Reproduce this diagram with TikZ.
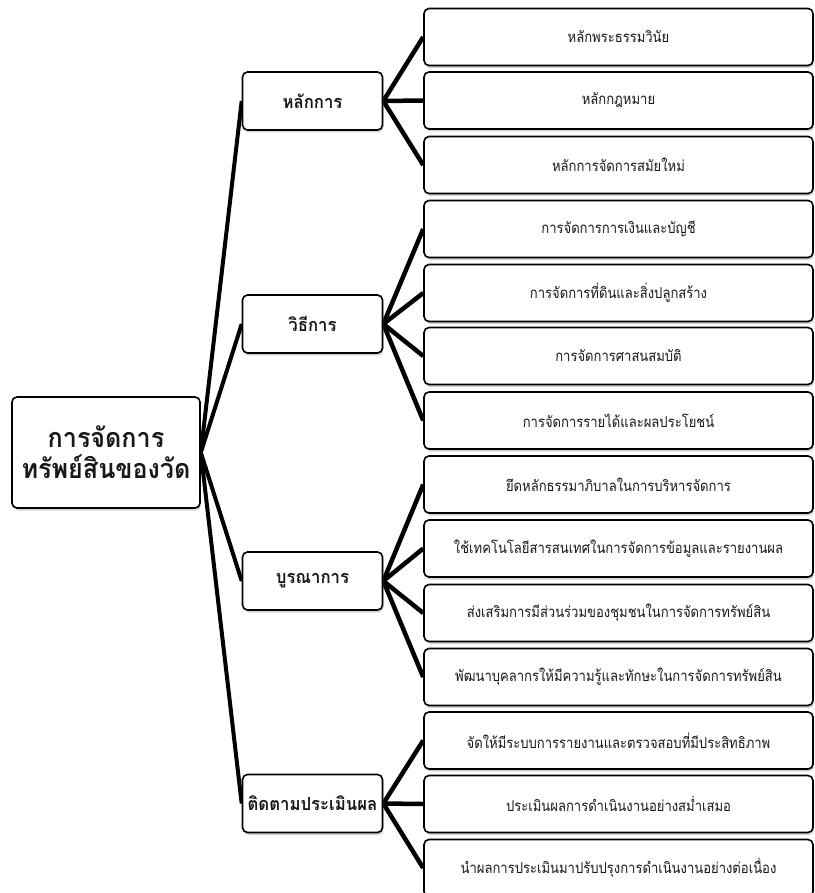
\documentclass[tikz,border=0pt]{standalone}
\usepackage{fontspec}
\newfontfamily\thairoot[Script=Thai,FakeStretch=0.93]{Loma}
\newfontfamily\thaimid[Script=Thai,FakeStretch=0.93]{Loma}
\newfontfamily\thaileaf[Script=Thai,FakeStretch=0.87]{Loma}
\usetikzlibrary{shadows,backgrounds}
\begin{document}
\begin{tikzpicture}[x=1pt,y=-1pt,
  box/.style={draw=black, line width=1.6pt, rounded corners=5pt, fill=white,
    drop shadow={opacity=0.35, shadow xshift=1pt, shadow yshift=-2.5pt},
    align=center, inner sep=0pt, text=black!90},
  rootbox/.style={box, minimum width=188pt, minimum height=111pt,
    font=\thairoot\bfseries\fontsize{27}{31}\selectfont},
  midbox/.style={box, minimum width=140pt, minimum height=58pt,
    font=\thaimid\bfseries\fontsize{18}{22}\selectfont},
  leafbox/.style={box, minimum width=389pt, minimum height=57pt,
    font=\thaileaf\fontsize{15}{18}\selectfont},
  link/.style={line width=4pt},
  sublink/.style={line width=4.5pt}]
\useasboundingbox (0,0) rectangle (814,893);
\node[rootbox] (root) at (106,452.5) {การจัดการ\\ทรัพย์สินของวัด};
\node[midbox] (m1) at (312.5,101) {หลักการ};
\node[midbox] (m2) at (312.5,324) {วิธีการ};
\node[midbox] (m3) at (312.5,581) {บูรณาการ};
\node[midbox] (m4) at (312.5,803.5) {ติดตามประเมินผล};
\node[leafbox] (a1) at (618.5,37) {หลักพระธรรมวินัย};
\node[leafbox] (a2) at (618.5,100.5) {หลักกฎหมาย};
\node[leafbox] (a3) at (618.5,165) {หลักการจัดการสมัยใหม่};
\node[leafbox] (b1) at (618.5,229) {การจัดการการเงินและบัญชี};
\node[leafbox] (b2) at (618.5,293) {การจัดการที่ดินและสิ่งปลูกสร้าง};
\node[leafbox] (b3) at (618.5,356) {การจัดการศาสนสมบัติ};
\node[leafbox] (b4) at (618.5,420.5) {การจัดการรายได้และผลประโยชน์};
\node[leafbox] (c1) at (618.5,484.5) {ยึดหลักธรรมาภิบาลในการบริหารจัดการ};
\node[leafbox] (c2) at (618.5,548.5) {ใช้เทคโนโลยีสารสนเทศในการจัดการข้อมูลและรายงานผล};
\node[leafbox] (c3) at (618.5,613) {ส่งเสริมการมีส่วนร่วมของชุมชนในการจัดการทรัพย์สิน};
\node[leafbox] (c4) at (618.5,677) {พัฒนาบุคลากรให้มีความรู้และทักษะในการจัดการทรัพย์สิน};
\node[leafbox] (d1) at (618.5,740.5) {จัดให้มีระบบการรายงานและตรวจสอบที่มีประสิทธิภาพ};
\node[leafbox] (d2) at (618.5,804) {ประเมินผลการดำเนินงานอย่างสม่ำเสมอ};
\node[leafbox] (d3) at (618.5,868) {นำผลการประเมินมาปรับปรุงการดำเนินงานอย่างต่อเนื่อง};
\begin{pgfonlayer}{background}
\foreach \m in {m1,m2,m3,m4} \draw[link] (root.east) -- (\m.west);
\foreach \c in {a1,a2,a3} \draw[sublink] (m1.east) -- (\c.west);
\foreach \c in {b1,b2,b3,b4} \draw[sublink] (m2.east) -- (\c.west);
\foreach \c in {c1,c2,c3,c4} \draw[sublink] (m3.east) -- (\c.west);
\foreach \c in {d1,d2,d3} \draw[sublink] (m4.east) -- (\c.west);
\end{pgfonlayer}
\end{tikzpicture}
\end{document}
